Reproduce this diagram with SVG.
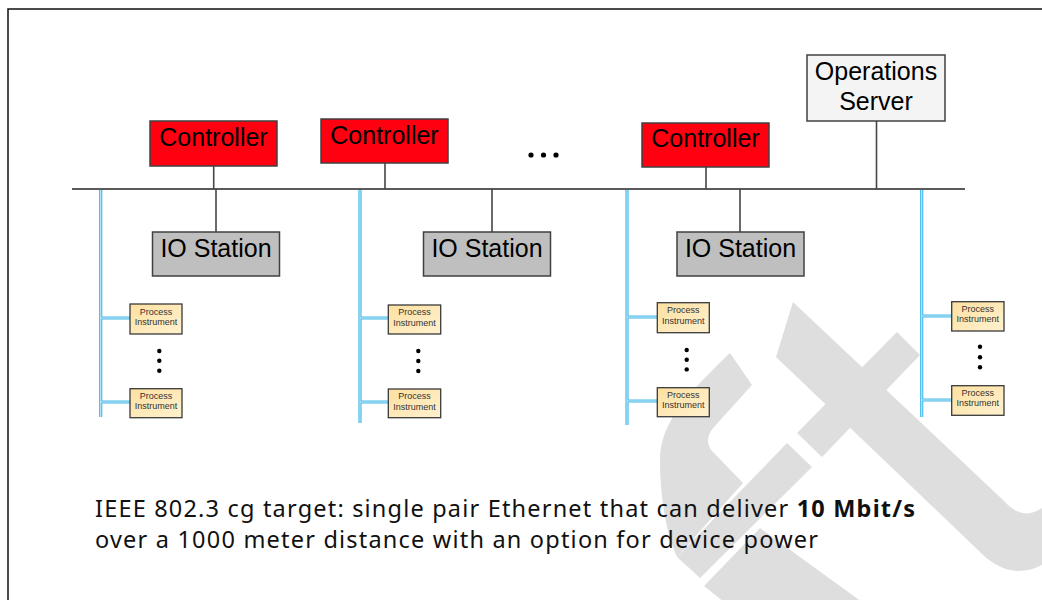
<svg xmlns="http://www.w3.org/2000/svg" width="1042" height="600" viewBox="0 0 1042 600">
  <defs>
    <linearGradient id="piFill" x1="0" y1="0" x2="1" y2="1">
      <stop offset="0" stop-color="#fde0a0"/>
      <stop offset="1" stop-color="#fff1cf"/>
    </linearGradient>
    <style>
      .wm { fill: #dedede; }
      .box { stroke: #404040; stroke-width: 1.5; }
      .ctrl { fill: #ff0010; }
      .io { fill: #bfbfbf; }
      .srv { fill: #f4f4f4; }
      .pi { fill: url(#piFill); stroke: #3a3a3a; stroke-width: 1.3; }
      .lbl { font-family: "Liberation Sans", Arial, sans-serif; font-size: 25px; fill: #000; text-anchor: middle; }
      .pil { font-family: "Liberation Sans", Arial, sans-serif; font-size: 9px; fill: #333; text-anchor: middle; }
      .stem { stroke: #454545; stroke-width: 1.6; fill: none; }
      .bus { stroke: #5a5a5a; stroke-width: 2; fill: none; }
      .spe { stroke: #45b9ea; stroke-width: 3.2; fill: none; }
      .spei { stroke: #d6f0fb; stroke-width: 0.9; fill: none; }
      .dot { fill: #000; }
      .note { font-family: "Noto Sans", "Open Sans", sans-serif; font-size: 23.5px; fill: #111; }
    </style>
  </defs>

  <rect x="0" y="0" width="1042" height="600" fill="#fff"/>

  <!-- background watermark -->
  <g id="watermark">
    <path class="wm" d="M793,302 L1003,500 Q1022,522 1042,508 L1042,565 Q1008,582 978,550 L776,357 Z"/>
    <path class="wm" d="M897,332 L920,355 L822,457 L797,433 Z"/>
    <path class="wm" d="M787,443 L812,467 L700,578 L677,557 Z"/>
    <path class="wm" d="M730,353 C692,390 660,420 660,460 C660,500 667,535 677,557 L743,483 L712,451 Q703,440 714,427 L752,385 Z"/>
    <path class="wm" d="M704,586 L760,528 L862,602 L724,602 Z"/>
  </g>

  <!-- frame -->
  <path d="M8,600 V9 H1042" fill="none" stroke="#111" stroke-width="1.5"/>

  <!-- connectors -->
  <g id="connectors">
    <line class="bus" x1="72" y1="189" x2="965" y2="189"/>
    <line class="stem" x1="213.7" y1="166" x2="213.7" y2="189"/>
    <line class="stem" x1="385" y1="163" x2="385" y2="189"/>
    <line class="stem" x1="706" y1="167" x2="706" y2="189"/>
    <line class="stem" x1="876.5" y1="121" x2="876.5" y2="189"/>
    <line class="stem" x1="216" y1="189" x2="216" y2="232"/>
    <line class="stem" x1="492" y1="189" x2="492" y2="232"/>
    <line class="stem" x1="740" y1="189" x2="740" y2="232"/>

    <g id="spe-lines">
      <path class="spe" d="M100.7,190 V417 M100.7,318 H130 M100.7,402 H130"/>
      <path class="spei" d="M100.7,190 V417 M100.7,318 H130 M100.7,402 H130"/>
      <path class="spe" d="M360,190 V423 M360,318 H388 M360,402 H388"/>
      <path class="spei" d="M360,190 V423 M360,318 H388 M360,402 H388"/>
      <path class="spe" d="M627,190 V425 M627,317 H657 M627,401 H657"/>
      <path class="spei" d="M627,190 V425 M627,317 H657 M627,401 H657"/>
      <path class="spe" d="M921.7,190 V417 M921.7,316 H951.5 M921.7,400 H951.5"/>
      <path class="spei" d="M921.7,190 V417 M921.7,316 H951.5 M921.7,400 H951.5"/>
    </g>
  </g>

  <!-- controllers -->
  <g id="controller1">
    <rect class="box ctrl" x="150" y="121" width="127" height="45"/>
    <text class="lbl" x="213.5" y="146">Controller</text>
  </g>
  <g id="controller2">
    <rect class="box ctrl" x="321" y="119" width="127" height="44"/>
    <text class="lbl" x="384.5" y="144">Controller</text>
  </g>
  <g id="controller3">
    <rect class="box ctrl" x="642" y="123" width="127" height="44"/>
    <text class="lbl" x="705.5" y="147">Controller</text>
  </g>
  <g id="ellipsis">
    <circle class="dot" cx="531" cy="155" r="2.6"/>
    <circle class="dot" cx="543.5" cy="155" r="2.6"/>
    <circle class="dot" cx="556" cy="155" r="2.6"/>
  </g>

  <!-- operations server -->
  <g id="server">
    <rect class="box srv" x="807" y="55" width="138" height="66"/>
    <text class="lbl" x="876" y="80">Operations</text>
    <text class="lbl" x="876" y="110">Server</text>
  </g>

  <!-- IO stations -->
  <g id="io1">
    <rect class="box io" x="152.5" y="232" width="127" height="44"/>
    <text class="lbl" x="216" y="257">IO Station</text>
  </g>
  <g id="io2">
    <rect class="box io" x="423.5" y="232" width="127" height="44"/>
    <text class="lbl" x="487" y="257">IO Station</text>
  </g>
  <g id="io3">
    <rect class="box io" x="677" y="232" width="127" height="44"/>
    <text class="lbl" x="740.5" y="257">IO Station</text>
  </g>

  <!-- process instruments column 1 -->
  <g id="pi1a">
    <rect class="pi" x="130" y="304" width="52" height="30"/>
    <text class="pil" x="156" y="314.5">Process</text>
    <text class="pil" x="156" y="325">Instrument</text>
  </g>
  <g id="pi1dots">
    <circle class="dot" cx="159.3" cy="351" r="2.2"/>
    <circle class="dot" cx="159.3" cy="360.8" r="2.2"/>
    <circle class="dot" cx="159.3" cy="370.7" r="2.2"/>
  </g>
  <g id="pi1b">
    <rect class="pi" x="130" y="388.7" width="52" height="29"/>
    <text class="pil" x="156" y="398.8">Process</text>
    <text class="pil" x="156" y="409.3">Instrument</text>
  </g>

  <!-- column 2 -->
  <g id="pi2a">
    <rect class="pi" x="388.3" y="305" width="52.4" height="29"/>
    <text class="pil" x="414.5" y="315">Process</text>
    <text class="pil" x="414.5" y="325.5">Instrument</text>
  </g>
  <g id="pi2dots">
    <circle class="dot" cx="418.3" cy="351" r="2.2"/>
    <circle class="dot" cx="418.3" cy="361" r="2.2"/>
    <circle class="dot" cx="418.3" cy="371" r="2.2"/>
  </g>
  <g id="pi2b">
    <rect class="pi" x="388.3" y="389" width="52.4" height="28.7"/>
    <text class="pil" x="414.5" y="399">Process</text>
    <text class="pil" x="414.5" y="409.5">Instrument</text>
  </g>

  <!-- column 3 -->
  <g id="pi3a">
    <rect class="pi" x="657.3" y="302.7" width="52" height="30"/>
    <text class="pil" x="683.3" y="313">Process</text>
    <text class="pil" x="683.3" y="323.5">Instrument</text>
  </g>
  <g id="pi3dots">
    <circle class="dot" cx="686.7" cy="350" r="2.2"/>
    <circle class="dot" cx="686.7" cy="359.8" r="2.2"/>
    <circle class="dot" cx="686.7" cy="369.4" r="2.2"/>
  </g>
  <g id="pi3b">
    <rect class="pi" x="657.3" y="387.7" width="52" height="29"/>
    <text class="pil" x="683.3" y="397.8">Process</text>
    <text class="pil" x="683.3" y="408.3">Instrument</text>
  </g>

  <!-- column 4 -->
  <g id="pi4a">
    <rect class="pi" x="951.7" y="301.7" width="52.3" height="29.3"/>
    <text class="pil" x="977.8" y="311.8">Process</text>
    <text class="pil" x="977.8" y="322.3">Instrument</text>
  </g>
  <g id="pi4dots">
    <circle class="dot" cx="980" cy="346.7" r="2.2"/>
    <circle class="dot" cx="980" cy="357.3" r="2.2"/>
    <circle class="dot" cx="980" cy="367.3" r="2.2"/>
  </g>
  <g id="pi4b">
    <rect class="pi" x="951.7" y="385.7" width="52.3" height="29.6"/>
    <text class="pil" x="977.8" y="395.8">Process</text>
    <text class="pil" x="977.8" y="406.3">Instrument</text>
  </g>

  <!-- caption -->
  <g id="caption">
    <text class="note" x="95" y="517" textLength="820" lengthAdjust="spacing">IEEE 802.3 cg target: single pair Ethernet that can deliver <tspan font-weight="bold">10 Mbit/s</tspan></text>
    <text class="note" x="95" y="548" textLength="723" lengthAdjust="spacing">over a 1000 meter distance with an option for device power</text>
  </g>
</svg>
